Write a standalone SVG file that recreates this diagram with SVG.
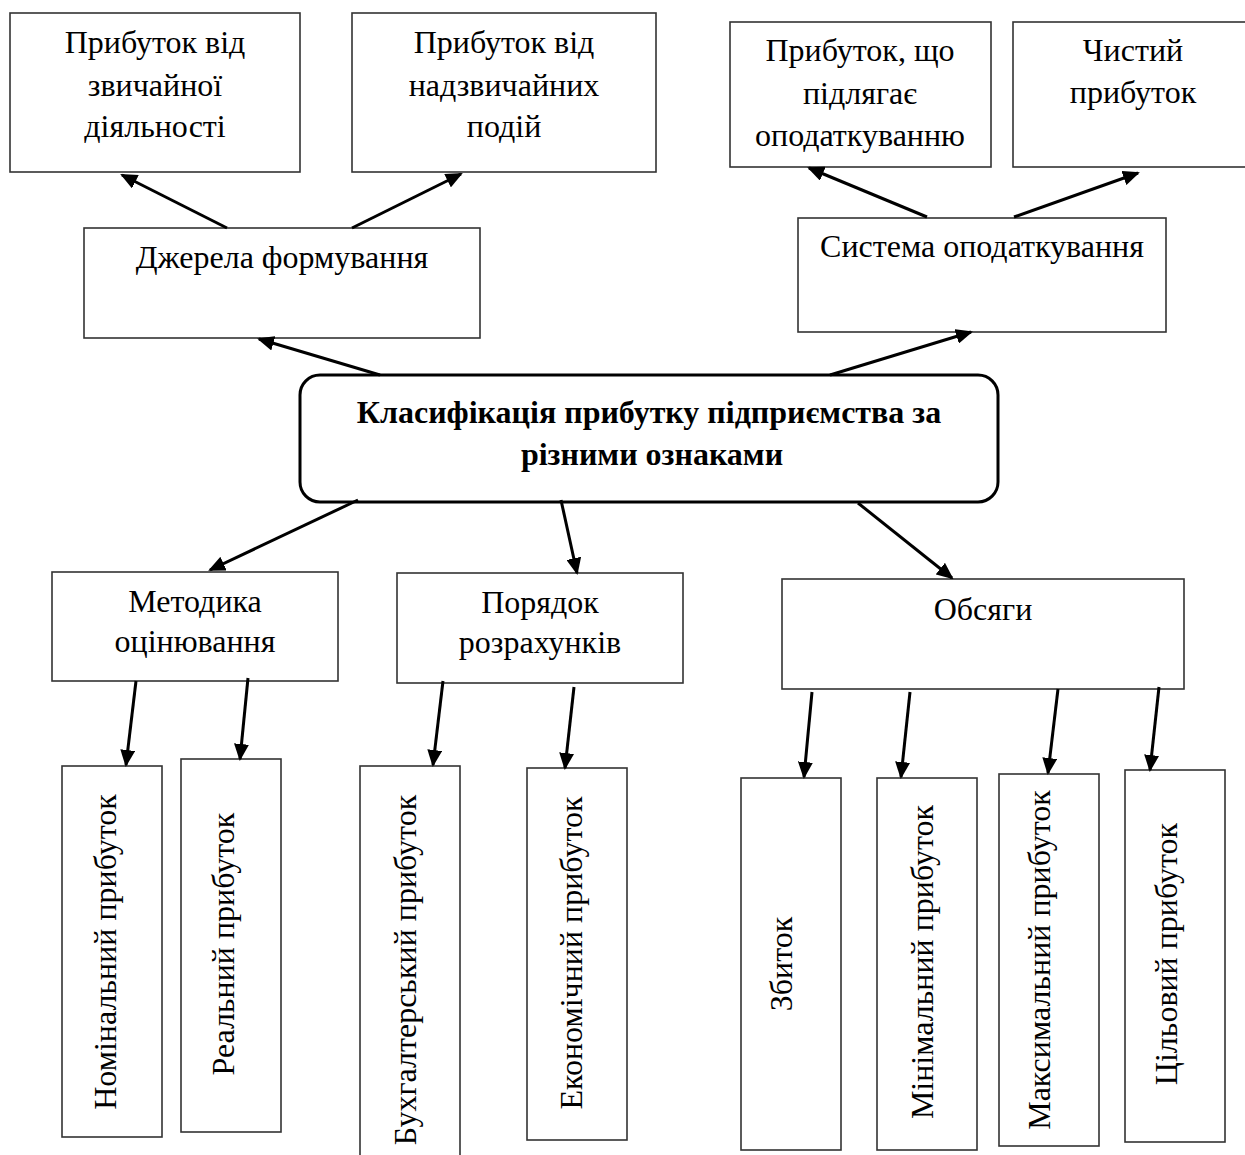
<svg xmlns="http://www.w3.org/2000/svg" width="1245" height="1155" viewBox="0 0 1245 1155">
<style>
  .box { fill: #fff; stroke: #333; stroke-width: 1.6; }
  .main { fill: #fff; stroke: #000; stroke-width: 3; }
  .t { font-family: "Liberation Serif", "Times New Roman", serif; font-size: 32px; fill: #000; text-anchor: middle; }
  .b { font-weight: bold; font-size: 32px; }
  .conn line { stroke: #000; stroke-width: 3; marker-end: url(#ah); }
</style>
<defs>
  <marker id="ah" viewBox="0 0 17 15" refX="15" refY="7.5" markerWidth="17" markerHeight="15" markerUnits="userSpaceOnUse" orient="auto">
    <path d="M0,0 L17,7.5 L0,15 z" fill="#000"/>
  </marker>
</defs>
<rect width="1245" height="1155" fill="#fff"/>

<g id="n-ordinary"><rect class="box" x="10" y="13" width="290" height="159"/>
  <text class="t" x="155" y="53">Прибуток від</text>
  <text class="t" x="155" y="96">звичайної</text>
  <text class="t" x="155" y="137">діяльності</text></g>
<g id="n-extra"><rect class="box" x="352" y="13" width="304" height="159"/>
  <text class="t" x="504" y="53">Прибуток від</text>
  <text class="t" x="504" y="96">надзвичайних</text>
  <text class="t" x="504" y="137">подій</text></g>
<g id="n-taxable"><rect class="box" x="730" y="22" width="261" height="145"/>
  <text class="t" x="860" y="61">Прибуток, що</text>
  <text class="t" x="860" y="104">підлягає</text>
  <text class="t" x="860" y="146">оподаткуванню</text></g>
<g id="n-net"><rect class="box" x="1013" y="22" width="245" height="145"/>
  <text class="t" x="1133" y="61">Чистий</text>
  <text class="t" x="1133" y="103">прибуток</text></g>
<g id="n-sources"><rect class="box" x="84" y="228" width="396" height="110"/>
  <text class="t" x="282" y="268">Джерела формування</text></g>
<g id="n-taxsys"><rect class="box" x="798" y="218" width="368" height="114"/>
  <text class="t" x="982" y="257">Система оподаткування</text></g>
<g id="n-main"><rect class="main" x="300" y="375" width="698" height="127" rx="20" ry="20"/>
  <text class="t b" x="649" y="423">Класифікація прибутку підприємства за</text>
  <text class="t b" x="652" y="465">різними ознаками</text></g>
<g id="n-method"><rect class="box" x="52" y="572" width="286" height="109"/>
  <text class="t" x="195" y="612">Методика</text>
  <text class="t" x="195" y="652">оцінювання</text></g>
<g id="n-order"><rect class="box" x="397" y="573" width="286" height="110"/>
  <text class="t" x="540" y="613">Порядок</text>
  <text class="t" x="540" y="653">розрахунків</text></g>
<g id="n-volume"><rect class="box" x="782" y="579" width="402" height="110"/>
  <text class="t" x="983" y="620">Обсяги</text></g>

<g id="n-nominal"><rect class="box" x="62" y="766" width="100" height="371"/>
  <text class="t" transform="translate(116,952) rotate(-90)">Номінальний прибуток</text></g>
<g id="n-real"><rect class="box" x="181" y="759" width="100" height="373"/>
  <text class="t" transform="translate(234,944) rotate(-90)">Реальний прибуток</text></g>
<g id="n-account"><rect class="box" x="360" y="766" width="100" height="400"/>
  <text class="t" transform="translate(416,970) rotate(-90)">Бухгалтерський прибуток</text></g>
<g id="n-econ"><rect class="box" x="527" y="768" width="100" height="372"/>
  <text class="t" transform="translate(582,953) rotate(-90)">Економічний прибуток</text></g>
<g id="n-loss"><rect class="box" x="741" y="778" width="100" height="372"/>
  <text class="t" transform="translate(792,964) rotate(-90)">Збиток</text></g>
<g id="n-min"><rect class="box" x="877" y="778" width="100" height="372"/>
  <text class="t" transform="translate(933,962) rotate(-90)">Мінімальний прибуток</text></g>
<g id="n-max"><rect class="box" x="999" y="774" width="100" height="372"/>
  <text class="t" transform="translate(1050,960) rotate(-90)">Максимальний прибуток</text></g>
<g id="n-target"><rect class="box" x="1125" y="770" width="100" height="372"/>
  <text class="t" transform="translate(1177,954) rotate(-90)">Цільовий прибуток</text></g>

<g id="connectors" class="conn">
  <line x1="380" y1="375" x2="259" y2="339"/>
  <line x1="830" y1="375" x2="971" y2="332"/>
  <line x1="358" y1="500" x2="210" y2="570"/>
  <line x1="561" y1="500" x2="577" y2="573"/>
  <line x1="858" y1="503" x2="952" y2="578"/>
  <line x1="227" y1="228" x2="122" y2="175"/>
  <line x1="352" y1="228" x2="461" y2="174"/>
  <line x1="927" y1="217" x2="809" y2="168"/>
  <line x1="1014" y1="217" x2="1138" y2="173"/>
  <line x1="136" y1="681" x2="126" y2="765"/>
  <line x1="248" y1="678" x2="240" y2="759"/>
  <line x1="443" y1="681" x2="433" y2="765"/>
  <line x1="574" y1="687" x2="565" y2="768"/>
  <line x1="812" y1="692" x2="804" y2="777"/>
  <line x1="910" y1="692" x2="901" y2="777"/>
  <line x1="1058" y1="689" x2="1048" y2="773"/>
  <line x1="1159" y1="687" x2="1150" y2="770"/>
</g>
</svg>
